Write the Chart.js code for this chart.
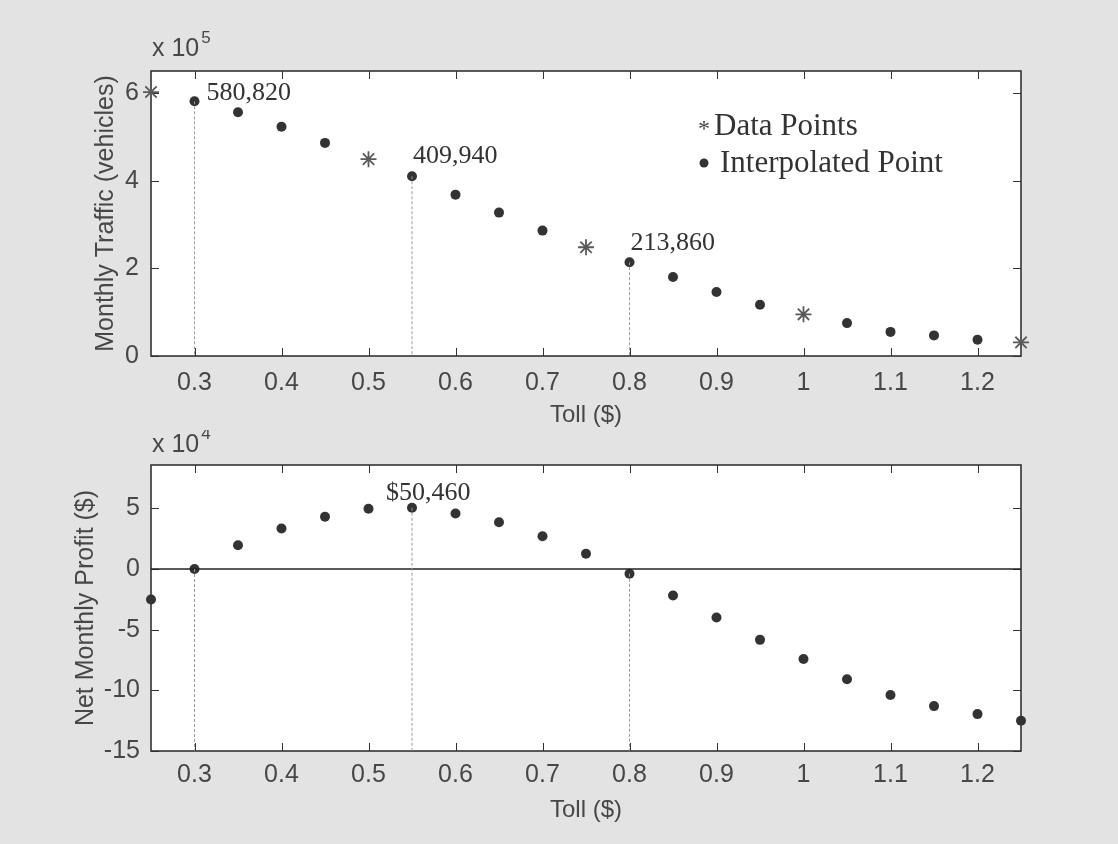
<!DOCTYPE html>
<html lang="en">
<head>
<meta charset="UTF-8">
<title>Toll vs Traffic and Profit</title>
<script src="https://cdn.jsdelivr.net/npm/chart.js@4.4.1/dist/chart.umd.min.js"></script>
<style>
  body {
    margin: 0;
    background: #e3e3e3;
    width: 1118px;
    height: 844px;
    overflow: hidden;
    position: relative;
  }
  canvas { position: absolute; left: 0; }
  #traffic { top: 0; }
  #profit { top: 430px; }
</style>
</head>
<body>
<canvas id="traffic" width="1118" height="430"></canvas>
<canvas id="profit" width="1118" height="414"></canvas>
<script>
// toll values ($) on the x axis
const tolls = [0.25, 0.30, 0.35, 0.40, 0.45, 0.50, 0.55, 0.60, 0.65, 0.70, 0.75,
               0.80, 0.85, 0.90, 0.95, 1.00, 1.05, 1.10, 1.15, 1.20, 1.25];
// monthly traffic (vehicles)
const traffic = [602000, 580820, 556000, 523000, 486000, 449000, 409940, 368000, 327000, 286000, 248000,
                 213860, 180000, 146000, 117000, 95000, 75000, 55000, 47000, 37000, 31000];
// net monthly profit ($)
const profit = [-25200, 0, 19500, 33300, 43100, 49600, 50460, 45800, 38500, 27000, 12500,
                -3900, -21900, -40000, -58400, -74200, -90900, -103800, -113000, -119600, -125000];
// tolls that were measured (the rest are interpolated)
const dataTolls = [0.25, 0.50, 0.75, 1.00, 1.25];
// tolls marked with a dotted drop line and a value label
const markedTolls = [0.30, 0.55, 0.80];
const profitMarked = [0.30, 0.55, 0.80];

const xTicks = [0.3, 0.4, 0.5, 0.6, 0.7, 0.8, 0.9, 1, 1.1, 1.2];
const trafficTicks = [0, 200000, 400000, 600000];
const profitTicks = [-150000, -100000, -50000, 0, 50000];

const SANS = 'Liberation Sans, Arial, sans-serif';
const SERIF = 'Liberation Serif, Times New Roman, serif';
const INK = '#333';
const LABEL = '#474747';

function pts(ys, keep) {
    return tolls.map((t, i) => ({x: t, y: ys[i]})).filter(p => keep(p.x));
}
function isData(t) {
    return dataTolls.some(d => Math.abs(d - t) < 1e-9);
}
function valueAt(ys, t) {
    return ys[tolls.findIndex(v => Math.abs(v - t) < 1e-9)];
}
function dropLines(ys, t0, floor) {
    return t0.map(t => ({
        data: [{x: t, y: valueAt(ys, t)}, {x: t, y: floor}],
        showLine: true, pointRadius: 0, borderColor: '#9a9a9a', borderWidth: 1,
        borderDash: [3, 2], clip: false
    }));
}

// white axes box, inward ticks on all four sides, exponent, legend, notes
const figurePlugin = {
    id: 'figure',
    beforeDraw(chart) {
        const {ctx, chartArea: a} = chart;
        ctx.save();
        ctx.fillStyle = '#fff';
        ctx.fillRect(a.left, a.top, a.right - a.left, a.bottom - a.top);
        ctx.restore();
    },
    beforeDatasetsDraw(chart) {
        const {ctx, chartArea: a, scales} = chart;
        ctx.save();
        ctx.strokeStyle = INK;
        ctx.lineWidth = 1;
        ctx.beginPath();
        scales.x.ticks.forEach(t => {
            const px = Math.round(scales.x.getPixelForValue(t.value)) + 0.5;
            ctx.moveTo(px, a.bottom); ctx.lineTo(px, a.bottom - 8);
            ctx.moveTo(px, a.top); ctx.lineTo(px, a.top + 8);
        });
        scales.y.ticks.forEach(t => {
            const py = Math.round(scales.y.getPixelForValue(t.value)) + 0.5;
            ctx.moveTo(a.left, py); ctx.lineTo(a.left + 8, py);
            ctx.moveTo(a.right, py); ctx.lineTo(a.right - 8, py);
        });
        ctx.stroke();
        ctx.lineWidth = 1.6;
        ctx.strokeRect(a.left, a.top, a.right - a.left, a.bottom - a.top);
        ctx.restore();
    },
    afterDraw(chart, args, opts) {
        const {ctx, scales} = chart;
        ctx.save();
        ctx.fillStyle = LABEL;
        ctx.textBaseline = 'alphabetic';
        // "x 10^n" multiplier
        ctx.font = '25px ' + SANS;
        ctx.fillText('x 10', opts.exp.x, opts.exp.y);
        const w = ctx.measureText('x 10').width;
        ctx.font = '17px ' + SANS;
        ctx.fillText(opts.exp.power, opts.exp.x + w + 2, opts.exp.y - 13);

        ctx.fillStyle = INK;
        ctx.font = '26px ' + SERIF;
        (opts.notes || []).forEach(n => {
            const px = scales.x.getPixelForValue(n.toll) + n.dx;
            const py = scales.y.getPixelForValue(n.value) + n.dy;
            ctx.fillText(n.text, px, py);
        });

        if (opts.legend) {
            const L = opts.legend;
            ctx.fillStyle = '#444';
            ctx.font = '24px ' + SERIF;
            ctx.fillText('*', L.x, L.y1 + 1);
            ctx.fillStyle = INK;
            ctx.font = '31px ' + SERIF;
            ctx.fillText('Data Points', L.x + 16, L.y1);
            ctx.beginPath();
            ctx.arc(L.x + 6, L.y2 - 9, 4.5, 0, Math.PI * 2);
            ctx.fill();
            ctx.fillText('Interpolated Point', L.x + 22, L.y2);
        }
        ctx.restore();
    }
};

function xScale(height, tickPad, titlePad) {
    return {
        type: 'linear', min: 0.25, max: 1.25,
        afterBuildTicks: s => { s.ticks = xTicks.map(v => ({value: v})); },
        afterFit: s => { s.height = height; },
        grid: {display: false, drawTicks: false},
        border: {display: false},
        ticks: {
            padding: tickPad, color: LABEL, autoSkip: false, maxRotation: 0,
            font: {family: SANS, size: 25},
            callback: v => String(v)
        },
        title: {
            display: true, text: 'Toll ($)', color: LABEL,
            font: {family: SANS, size: 24},
            padding: {top: 0, bottom: titlePad}
        }
    };
}

function yScale(min, max, ticks, div, label, titlePad, tickPad) {
    return {
        type: 'linear', min: min, max: max,
        afterBuildTicks: s => { s.ticks = ticks.map(v => ({value: v})); },
        afterFit: s => { s.width = 151; },
        grid: {display: false, drawTicks: false},
        border: {display: false},
        ticks: {
            padding: tickPad, color: LABEL, autoSkip: false,
            font: {family: SANS, size: 25},
            callback: v => String(v / div)
        },
        title: {
            display: true, text: label, color: LABEL,
            font: {family: SANS, size: 25},
            padding: {top: titlePad, bottom: 0}
        }
    };
}

const common = {
    responsive: false,
    animation: false,
    events: [],
    plugins: {legend: {display: false}, tooltip: {enabled: false}}
};

// top: monthly traffic
new Chart(document.getElementById('traffic'), {
    type: 'scatter',
    data: {
        datasets: [
            ...dropLines(traffic, markedTolls, 0),
            {
                data: pts(traffic, t => !isData(t)),
                pointStyle: 'circle', pointRadius: 5, backgroundColor: INK,
                borderColor: INK, borderWidth: 0, clip: false
            },
            {
                data: pts(traffic, isData),
                pointStyle: 'star', pointRadius: 8, borderColor: '#5a5a5a',
                borderWidth: 1.8, clip: false
            }
        ]
    },
    options: {
        ...common,
        layout: {padding: {left: 0, right: 97, top: 71, bottom: 0}},
        scales: {
            x: xScale(74, 12, 0),
            y: yScale(0, 650000, trafficTicks, 1e5, 'Monthly Traffic (vehicles)', 91, 12)
        },
        plugins: {
            ...common.plugins,
            figure: {
                exp: {x: 152, y: 56, power: '5'},
                legend: {x: 698, y1: 135, y2: 172},
                notes: markedTolls.map((t, i) => ({
                    toll: t, value: valueAt(traffic, t),
                    text: valueAt(traffic, t).toLocaleString('en-US'),
                    dx: [12, 1, 1][i], dy: [-1, -13, -12][i]
                }))
            }
        }
    },
    plugins: [figurePlugin]
});

// bottom: net monthly profit
new Chart(document.getElementById('profit'), {
    type: 'scatter',
    data: {
        datasets: [
            ...dropLines(profit, profitMarked, -150000),
            {
                data: [{x: 0.25, y: 0}, {x: 1.25, y: 0}],
                showLine: true, pointRadius: 0, borderColor: '#222', borderWidth: 1.6
            },
            {
                data: pts(profit, () => true),
                pointStyle: 'circle', pointRadius: 5, backgroundColor: INK,
                borderColor: INK, borderWidth: 0, clip: false
            }
        ]
    },
    options: {
        ...common,
        layout: {padding: {left: 0, right: 97, top: 35, bottom: 0}},
        scales: {
            x: xScale(93, 9, 19),
            y: yScale(-150000, 85700, profitTicks, 1e4, 'Net Monthly Profit ($)', 71, 11)
        },
        plugins: {
            ...common.plugins,
            figure: {
                exp: {x: 152, y: 22, power: '4'},
                notes: [{
                    toll: 0.55, value: valueAt(profit, 0.55),
                    text: '$' + valueAt(profit, 0.55).toLocaleString('en-US'),
                    dx: -26, dy: -8
                }]
            }
        }
    },
    plugins: [figurePlugin]
});
</script>
</body>
</html>
